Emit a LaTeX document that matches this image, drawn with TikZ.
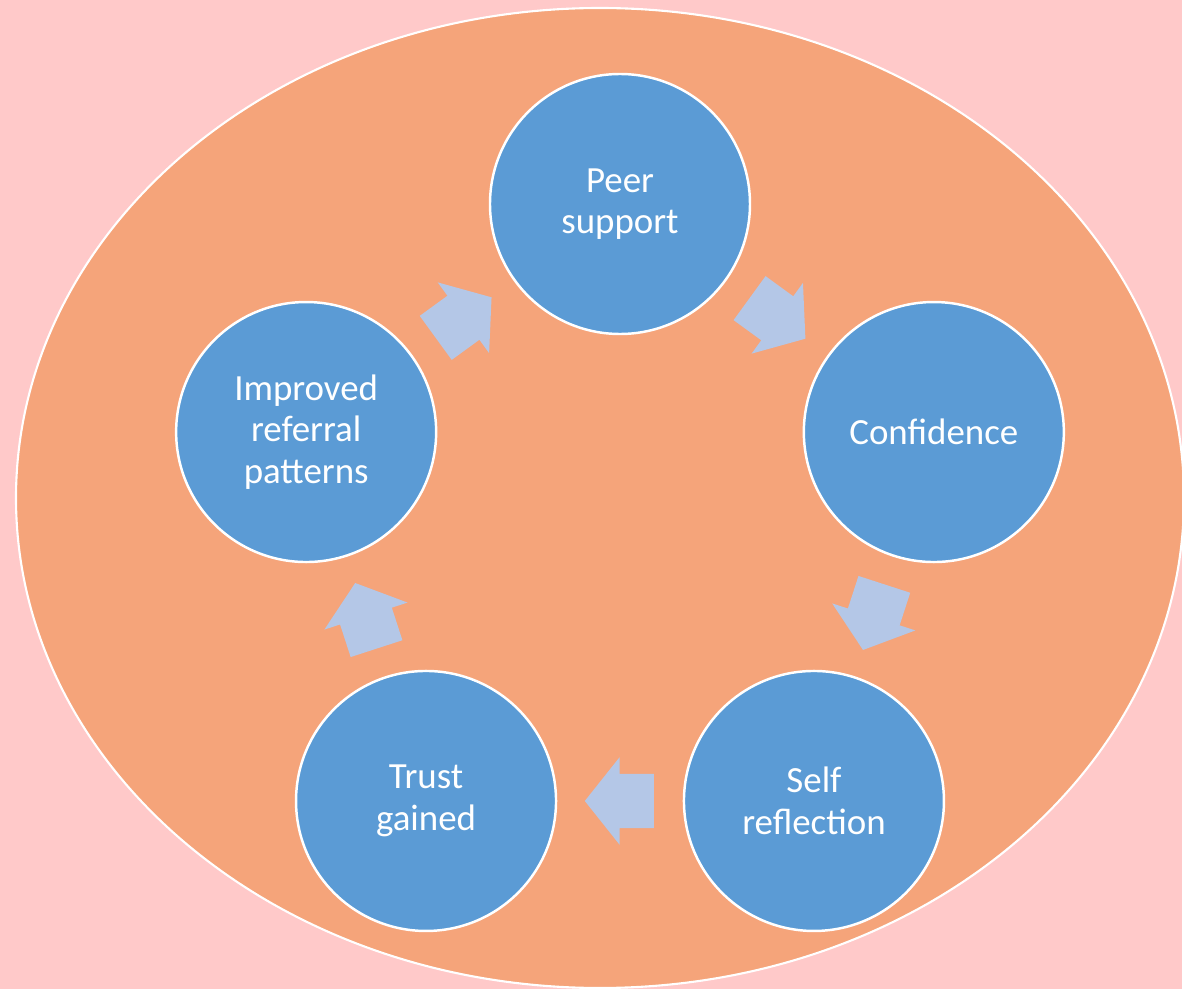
\documentclass[tikz,border=0pt]{standalone}
\usepackage{fontspec}
\setmainfont{Carlito}
\usetikzlibrary{calc,shapes.arrows}
\definecolor{pagepink}{HTML}{FFC9C9}
\definecolor{ringorange}{HTML}{F5A47A}
\definecolor{stageblue}{HTML}{5B9BD5}
\definecolor{flowblue}{HTML}{B4C7E7}
\tikzset{
  stage/.style={circle,fill=stageblue,draw=white,line width=0.7pt,minimum size=2.6cm,inner sep=0pt,text=white,align=center,font=\fontsize{10.5}{11.8}\selectfont},
  flow/.style={single arrow,fill=flowblue,draw=none,minimum height=0.69cm,inner sep=0pt,inner ysep=0.265cm,single arrow head extend=0.165cm,single arrow tip angle=103,anchor=tail}
}
\begin{document}
\begin{tikzpicture}

%Sfondo
\useasboundingbox[fill=pagepink] (0,0) rectangle (11.82,9.89);
\draw[fill=ringorange,draw=white,line width=0.6pt] (6.00,4.91) ellipse (5.84 and 4.90);

%Ciclo

\begin{scope}
\coordinate (o) at (6.20,4.55);
\path (o) -- +(90:3.30) coordinate (p1);
\path (o) -- +(18:3.30) coordinate (p2);
\path (o) -- +(-54:3.30) coordinate (p3);
\path (o) -- +(-126:3.30) coordinate (p4);
\path (o) -- +(162:3.30) coordinate (p5);

\node[stage] (peer) at (p1) {Peer\\support};
\node[stage] (conf) at (p2) {Confidence};
\node[stage] (self) at (p3) {Self\\reflection};
\node[stage] (trust) at (p4) {Trust\\gained};
\node[stage] (refer) at (p5) {Improved\\referral\\patterns};

\coordinate (m1) at ($(peer)!0.5!(conf)$);
\coordinate (m2) at ($(conf)!0.5!(self)$);
\coordinate (m3) at ($(self)!0.5!(trust)$);
\coordinate (m4) at ($(trust)!0.5!(refer)$);
\coordinate (m5) at ($(refer)!0.5!(peer)$);

\node[flow,rotate=-36] (f1) at ($(m1)!0.345cm!(peer)$) {};
\node[flow,rotate=-108] (f2) at ($(m2)!0.345cm!(conf)$) {};
\node[flow,rotate=180] (f3) at ($(m3)!0.345cm!(self)$) {};
\node[flow,rotate=108] (f4) at ($(m4)!0.345cm!(trust)$) {};
\node[flow,rotate=36] (f5) at ($(m5)!0.345cm!(refer)$) {};
\end{scope}

\end{tikzpicture}
\end{document}
